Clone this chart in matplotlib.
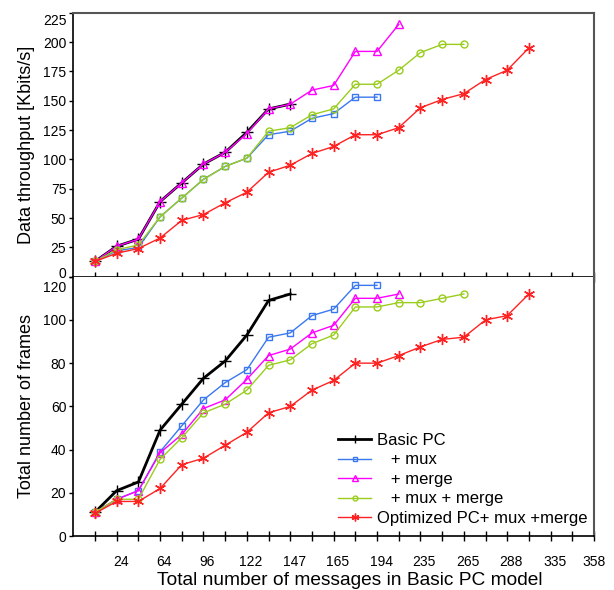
"""Throughput and frame count vs. message count: Basic PC against the mux/merge variants."""
import matplotlib

matplotlib.use("Agg")
import matplotlib.pyplot as plt
import matplotlib.transforms as mtransforms
import numpy as np

plt.rcParams["font.family"] = ["Liberation Sans", "DejaVu Sans"]

# x axis is categorical: one slot per scenario, only every other one labelled
X_LABELS = ["24", "64", "96", "122", "147", "165", "194", "235", "265", "288", "335", "358"]
N_SLOTS = 24

# top panel: data throughput [Kbits/s]
thr_basic = [13, 26, 32, 64, 80, 96, 106, 123, 143, 147]
thr_mux = [13, 22, 25, 51, 67, 83, 94, 101, 121, 124, 135, 139, 153, 153]
thr_merge = [13, 26, 32, 64, 80, 96, 106, 122, 143, 147, 159, 163, 192, 192, 215]
thr_muxmerge = [13, 23, 27, 51, 67, 83, 94, 101, 124, 127, 138, 143, 164, 164, 176, 191, 198, 198]
thr_opt = [13, 20, 24, 33, 48, 53, 63, 72, 89, 95, 105, 111, 121, 121, 127, 144, 151, 156, 168, 176, 195]

# bottom panel: total number of frames
frames_basic = [11, 21, 25, 49, 61, 73, 81, 93, 109, 112]
frames_mux = [11, 17, 21, 39, 51, 63, 71, 77, 92, 94, 102, 105, 116, 116]
frames_merge = [11, 17, 21, 38.5, 47, 59, 63, 72.5, 83.5, 86.5, 94, 97.5, 110, 110, 112]
frames_muxmerge = [11, 17, 17, 35.5, 45.5, 57, 61, 67.5, 79, 81.5, 89, 93, 106, 106, 108, 108, 110, 112]
frames_opt = [10.5, 16, 16, 22, 33, 36, 42, 48, 57, 60, 67.5, 72, 80, 80, 83.5, 87.5, 91, 92, 100, 102, 112]

SERIES = [
    # label, colour, marker, markersize, linewidth
    ("Basic PC", "black", "+", 9, 2.0),
    ("   + mux", "#3a78f0", "s", 5, 1.0),
    ("   + merge", "#ff00ff", "^", 6, 1.0),
    ("   + mux + merge", "#9acd1e", "o", 5, 1.0),
    ("Optimized PC+ mux +merge", "#ff2222", (6, 2, 0), 8, 1.0),
]
TOP = [thr_basic, thr_mux, thr_merge, thr_muxmerge, thr_opt]
BOTTOM = [frames_basic, frames_mux, frames_merge, frames_muxmerge, frames_opt]


def draw(ax, data):
    for (label, col, mk, ms, lw), ys in zip(SERIES, data):
        xs = np.arange(1, len(ys) + 1)
        ax.plot(xs, ys, color=col, lw=lw, marker=mk, ms=ms, mfc="none",
                mec=col, mew=1.0, label=label)


def style(ax):
    ax.set_xlim(0, N_SLOTS)
    ax.set_xticks(np.arange(1, N_SLOTS + 1))
    ax.tick_params(axis="x", direction="inout", length=7, width=1.0, pad=10, labelsize=10)
    ax.tick_params(axis="y", direction="out", length=3, width=1.0, pad=2, labelsize=10)
    for s in ("top", "right"):
        ax.spines[s].set_color("#555555")
        ax.spines[s].set_linewidth(1.5)
    for s in ("left", "bottom"):
        ax.spines[s].set_linewidth(1.2)


fig = plt.figure(figsize=(6.14, 5.9), dpi=100)
ax1 = fig.add_axes([0.1194, 0.531, 0.848, 0.4475])
ax2 = fig.add_axes([0.1194, 0.0915, 0.848, 0.4395], sharex=ax1)

draw(ax1, TOP)
draw(ax2, BOTTOM)
style(ax1)
style(ax2)

ax1.set_ylim(0, 225)
ax1.set_yticks(np.arange(0, 226, 25))
ax2.set_ylim(0, 120)
ax2.set_yticks(np.arange(0, 121, 20))
ax1.tick_params(axis="x", labelbottom=False)
ax2.spines["top"].set_visible(False)

labels = [""] * N_SLOTS
for i, lab in enumerate(X_LABELS):
    labels[2 * i + 1] = lab
ax2.set_xticklabels(labels)

# nudge the crowded labels where the two panels meet
fig.canvas.draw()


def nudge(t, dx, dy):
    off = mtransforms.ScaledTranslation(dx / 100, dy / 100, fig.dpi_scale_trans)
    t.set_transform(t.get_transform() + off)


nudge(ax1.get_yticklabels()[0], 0, 4)
nudge(ax1.get_yticklabels()[-1], 0, -7)
nudge(ax2.get_yticklabels()[-1], 0, -10)
for t in ax2.get_xticklabels()[:-1]:
    nudge(t, 4, 0)

ax1.set_ylabel("Data throughput [Kbits/s]", fontsize=13)
ax2.set_ylabel("Total number of frames", fontsize=13)
for ax in (ax1, ax2):
    ax.yaxis.label.set_va("center")
    ax.yaxis.set_label_coords(-0.089, 0.5)
ax2.set_xlabel("Total number of messages in Basic PC model", fontsize=13.8)
ax2.xaxis.set_label_coords(0.53, -0.14)

ax2.legend(loc="upper left", bbox_to_anchor=(338 / 614, 1 - 433 / 590),
           bbox_transform=fig.transFigure, frameon=False, fontsize=12,
           borderpad=0, borderaxespad=0, handlelength=2.0, handletextpad=0.35,
           labelspacing=0.27, markerscale=0.7)

fig.savefig("out.png", dpi=100)
